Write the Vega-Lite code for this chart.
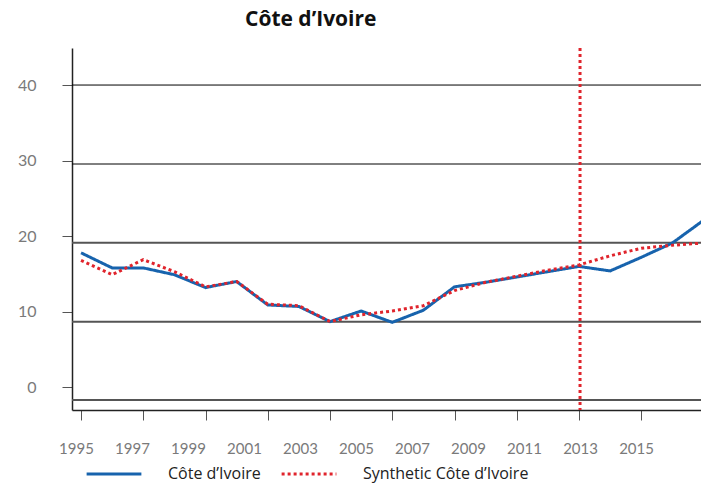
{
  "$schema": "https://vega.github.io/schema/vega-lite/v6.json",
  "width": 629,
  "height": 362,
  "autosize": "none",
  "padding": {"left": 72, "top": 48, "right": 0, "bottom": 75},
  "title": {"text": "Côte d’Ivoire", "anchor": "start", "frame": "group", "dx": 173, "offset": 17, "font": "Open Sans", "fontSize": 21, "fontWeight": "bold", "color": "#111111"},
  "config": {
    "view": {"stroke": null},
    "axis": {"labelFont": "Lato", "labelFontSize": 15, "labelColor": "#7a7a7a", "domainColor": "#222222", "domainWidth": 1.5, "tickColor": "#555555", "grid": false, "title": null},
    "legend": {"labelFont": "Open Sans", "labelFontSize": 16, "labelColor": "#222222", "labelLimit": 400}
  },
  "datasets": {
    "series": [
      {"year": 1997, "series": "Côte d’Ivoire", "value": 17.8},
      {"year": 1998, "series": "Côte d’Ivoire", "value": 15.8},
      {"year": 1999, "series": "Côte d’Ivoire", "value": 15.8},
      {"year": 2000, "series": "Côte d’Ivoire", "value": 14.9},
      {"year": 2001, "series": "Côte d’Ivoire", "value": 13.2},
      {"year": 2002, "series": "Côte d’Ivoire", "value": 14.0},
      {"year": 2003, "series": "Côte d’Ivoire", "value": 10.9},
      {"year": 2004, "series": "Côte d’Ivoire", "value": 10.7},
      {"year": 2005, "series": "Côte d’Ivoire", "value": 8.7},
      {"year": 2006, "series": "Côte d’Ivoire", "value": 10.1},
      {"year": 2007, "series": "Côte d’Ivoire", "value": 8.6},
      {"year": 2008, "series": "Côte d’Ivoire", "value": 10.2},
      {"year": 2009, "series": "Côte d’Ivoire", "value": 13.3},
      {"year": 2010, "series": "Côte d’Ivoire", "value": 13.9},
      {"year": 2011, "series": "Côte d’Ivoire", "value": 14.6},
      {"year": 2012, "series": "Côte d’Ivoire", "value": 15.3},
      {"year": 2013, "series": "Côte d’Ivoire", "value": 16.0},
      {"year": 2014, "series": "Côte d’Ivoire", "value": 15.4},
      {"year": 2015, "series": "Côte d’Ivoire", "value": 17.2},
      {"year": 2016, "series": "Côte d’Ivoire", "value": 19.1},
      {"year": 2017, "series": "Côte d’Ivoire", "value": 22.1},
      {"year": 1997, "series": "Synthetic Côte d’Ivoire", "value": 16.8},
      {"year": 1998, "series": "Synthetic Côte d’Ivoire", "value": 14.9},
      {"year": 1999, "series": "Synthetic Côte d’Ivoire", "value": 16.9},
      {"year": 2000, "series": "Synthetic Côte d’Ivoire", "value": 15.3},
      {"year": 2001, "series": "Synthetic Côte d’Ivoire", "value": 13.3},
      {"year": 2002, "series": "Synthetic Côte d’Ivoire", "value": 14.0},
      {"year": 2003, "series": "Synthetic Côte d’Ivoire", "value": 11.0},
      {"year": 2004, "series": "Synthetic Côte d’Ivoire", "value": 10.8},
      {"year": 2005, "series": "Synthetic Côte d’Ivoire", "value": 8.7},
      {"year": 2006, "series": "Synthetic Côte d’Ivoire", "value": 9.6},
      {"year": 2007, "series": "Synthetic Côte d’Ivoire", "value": 10.1},
      {"year": 2008, "series": "Synthetic Côte d’Ivoire", "value": 10.8},
      {"year": 2009, "series": "Synthetic Côte d’Ivoire", "value": 12.8},
      {"year": 2010, "series": "Synthetic Côte d’Ivoire", "value": 13.9},
      {"year": 2011, "series": "Synthetic Côte d’Ivoire", "value": 14.7},
      {"year": 2012, "series": "Synthetic Côte d’Ivoire", "value": 15.5},
      {"year": 2013, "series": "Synthetic Côte d’Ivoire", "value": 16.2},
      {"year": 2014, "series": "Synthetic Côte d’Ivoire", "value": 17.4},
      {"year": 2015, "series": "Synthetic Côte d’Ivoire", "value": 18.4},
      {"year": 2016, "series": "Synthetic Côte d’Ivoire", "value": 18.8},
      {"year": 2017, "series": "Synthetic Côte d’Ivoire", "value": 19.1}
    ],
    "gridDark": [{"v": 40}, {"v": 29.55}],
    "gridGray": [{"v": 19.14}, {"v": 8.68}, {"v": -1.68}],
    "treatment": [{"year": 2013}]
  },
  "layer": [
    {
      "data": {"name": "gridDark"},
      "mark": {"type": "rule", "color": "#000000", "strokeWidth": 1},
      "encoding": {"y": {"field": "v", "type": "quantitative", "scale": {"domain": [-3, 44.9], "nice": false, "zero": false},
        "axis": {"values": [0, 10, 20, 30, 40], "tickSize": 10, "labelPadding": 26, "labelFontSize": 16}}}
    },
    {
      "data": {"name": "gridGray"},
      "mark": {"type": "rule", "color": "#555555", "strokeWidth": 2},
      "encoding": {"y": {"field": "v", "type": "quantitative", "scale": {"domain": [-3, 44.9], "nice": false, "zero": false}}}
    },
    {
      "data": {"name": "series"},
      "mark": {"type": "line", "strokeWidth": 3, "clip": true},
      "encoding": {
        "x": {"field": "year", "type": "quantitative", "scale": {"domain": [1996.71, 2016.92], "nice": false, "zero": false},
              "axis": {"orient": "bottom", "values": [1997, 1999, 2001, 2003, 2005, 2007, 2009, 2011, 2013, 2015], "labels": false, "tickSize": 10}},
        "y": {"field": "value", "type": "quantitative", "scale": {"domain": [-3, 44.9], "nice": false, "zero": false}},
        "color": {"field": "series", "type": "nominal", "scale": {"range": ["#1763ad", "#e0242c"]},
                  "legend": {"title": null, "orient": "none", "legendX": 13, "legendY": 397, "direction": "horizontal", "symbolType": "stroke", "symbolSize": 3000, "symbolStrokeWidth": 3, "labelOffset": 25, "columnPadding": 14}},
        "strokeDash": {"field": "series", "type": "nominal", "scale": {"range": [[1, 0], [3, 3]]},
                       "legend": {"title": null, "orient": "none", "legendX": 13, "legendY": 397, "direction": "horizontal", "symbolType": "stroke", "symbolSize": 3000, "symbolStrokeWidth": 3, "labelOffset": 25, "columnPadding": 14}}
      }
    },
    {
      "data": {"name": "treatment"},
      "mark": {"type": "rule", "color": "#e0242c", "strokeWidth": 3, "strokeDash": [3, 3]},
      "encoding": {
        "x": {"field": "year", "type": "quantitative", "scale": {"domain": [1994.857, 2017.32], "nice": false, "zero": false},
              "axis": {"orient": "bottom", "values": [1995, 1997, 1999, 2001, 2003, 2005, 2007, 2009, 2011, 2013, 2015], "format": "d", "ticks": false, "tickSize": 0, "domain": false, "labelPadding": 31, "labelFlush": false}}
      }
    }
  ],
  "resolve": {"scale": {"x": "independent"}}
}
